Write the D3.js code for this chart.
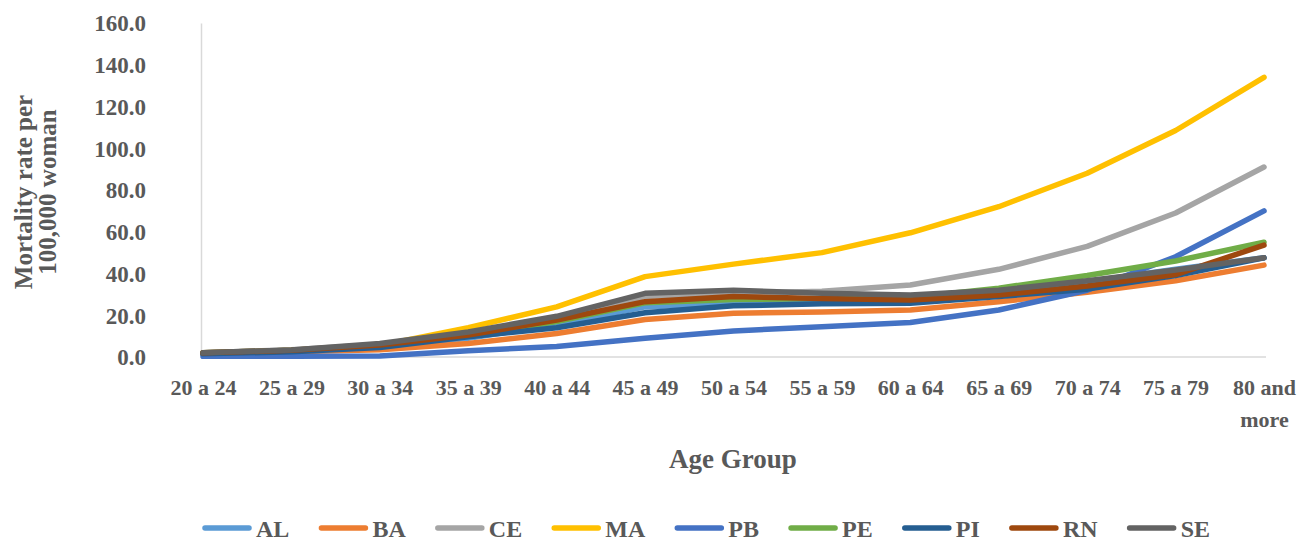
<!DOCTYPE html>
<html>
<head>
<meta charset="utf-8">
<script src="https://cdn.jsdelivr.net/npm/d3@7"></script>
<style>
  body { margin: 0; background: #fff; }
  text { font-family: "Liberation Serif", "Times New Roman", serif; font-weight: bold; fill: #595959; }
</style>
</head>
<body>
<div id="chart"></div>
<script>
// Age groups (x categories)
const ageGroups = ["20 a 24", "25 a 29", "30 a 34", "35 a 39", "40 a 44", "45 a 49", "50 a 54",
    "55 a 59", "60 a 64", "65 a 69", "70 a 74", "75 a 79", "80 and more"];

// Mortality rate per 100,000 women, per state
const AL = [1.8, 2.8, 4.5, 9.0, 15.5, 24.0, 26.0, 26.5, 27.0, 30.8, 36.0, 42.0, 47.5];
const BA = [1.5, 2.5, 3.5, 6.5, 11.3, 18.0, 21.0, 21.5, 22.5, 26.5, 31.0, 36.5, 44.0];
const CE = [2.0, 3.5, 6.0, 11.0, 19.0, 29.0, 30.5, 31.5, 34.5, 42.0, 53.0, 69.0, 91.0];
const MA = [1.5, 3.0, 5.5, 14.0, 24.0, 38.5, 44.5, 50.0, 59.5, 72.0, 88.0, 108.5, 134.0];
const PB = [0.3, 0.4, 0.5, 3.0, 5.0, 9.0, 12.5, 14.5, 16.5, 22.5, 32.0, 48.0, 70.0];
const PE = [2.0, 3.2, 5.5, 10.0, 17.0, 26.0, 27.5, 28.0, 28.5, 33.0, 39.0, 46.0, 55.0];
const PI = [1.5, 2.5, 4.5, 9.7, 14.0, 21.2, 24.5, 25.5, 25.7, 29.0, 32.5, 39.0, 47.5];
const RN = [2.0, 3.2, 5.8, 10.5, 17.7, 26.5, 29.0, 28.0, 27.3, 29.7, 34.0, 39.5, 53.6];
const SE = [2.0, 3.4, 6.5, 12.0, 19.5, 30.5, 32.0, 30.5, 29.7, 32.0, 36.5, 41.7, 47.5];

const stateNames = ["AL", "BA", "CE", "MA", "PB", "PE", "PI", "RN", "SE"];
const stateValues = [AL, BA, CE, MA, PB, PE, PI, RN, SE];
const stateColors = ["#5B9BD5", "#ED7D31", "#A5A5A5", "#FFC000", "#4472C4", "#70AD47", "#255E91", "#9E480E", "#636363"];

const yTicks = [0, 20, 40, 60, 80, 100, 120, 140, 160];

const W = 1311, H = 540;
const svg = d3.select("#chart").append("svg")
    .attr("width", W)
    .attr("height", H);

const x = d3.scalePoint()
    .domain(ageGroups)
    .range([203, 1264]);

const y = d3.scaleLinear()
    .domain([0, 160])
    .range([357, 23]);

// Y axis
const yAxis = svg.append("g")
    .attr("transform", "translate(201,0)")
    .call(d3.axisLeft(y).tickValues(yTicks).tickSize(0).tickFormat(d3.format(".1f")));
yAxis.select(".domain").attr("stroke", "#d9d9d9").attr("stroke-width", 1.5);
yAxis.selectAll(".tick text")
    .attr("x", -55)
    .attr("dy", "0.34em")
    .style("font-size", "23px")
    .style("font-family", "Liberation Serif")
    .style("font-weight", "bold")
    .attr("fill", "#595959");

// X axis
const xAxis = svg.append("g")
    .attr("transform", "translate(0,357)")
    .call(d3.axisBottom(x).tickSize(0).tickPadding(22));
xAxis.select(".domain").attr("stroke", "#d9d9d9").attr("stroke-width", 1.5)
    .attr("d", "M201,0H1266");
xAxis.selectAll("text")
    .style("font-size", "22px")
    .style("font-family", "Liberation Serif")
    .style("font-weight", "bold")
    .attr("fill", "#595959")
    .each(function(d) {
        if (d === "80 and more") {
            const t = d3.select(this).text(null);
            t.append("tspan").attr("x", 0).text("80 and");
            t.append("tspan").attr("x", 0).attr("dy", "1.45em").text("more");
        }
    });

// Lines
const line = d3.line()
    .x((d, i) => x(ageGroups[i]))
    .y(d => y(d));

svg.append("g")
    .selectAll("path")
    .data(stateValues)
    .join("path")
    .attr("d", d => line(d))
    .attr("fill", "none")
    .attr("stroke", (d, i) => stateColors[i])
    .attr("stroke-width", 5.5)
    .attr("stroke-linecap", "round")
    .attr("stroke-linejoin", "round");

// Axis titles
svg.append("text")
    .attr("x", 733)
    .attr("y", 468)
    .attr("text-anchor", "middle")
    .style("font-size", "27px")
    .text("Age Group");

const yTitle = svg.append("text")
    .attr("transform", "translate(32,192) rotate(-90)")
    .attr("text-anchor", "middle")
    .style("font-size", "25px");
yTitle.append("tspan").attr("x", 0).attr("y", 0).text("Mortality rate per");
yTitle.append("tspan").attr("x", 0).attr("y", 24).text("100,000 woman");

// Legend: spread from x=205 to x=1210
const legend = svg.append("g").attr("transform", "translate(205,528)");
const items = stateNames.map((name, i) => {
    const g = legend.append("g");
    g.append("line")
        .attr("x1", 0).attr("x2", 44)
        .attr("y1", 0).attr("y2", 0)
        .attr("stroke", stateColors[i])
        .attr("stroke-width", 5.5)
        .attr("stroke-linecap", "round");
    const t = g.append("text")
        .attr("x", 51)
        .attr("y", 8.5)
        .style("font-size", "24px")
        .text(name);
    return { g: g, w: 51 + t.node().getComputedTextLength() };
});
const gap = (1005 - d3.sum(items, d => d.w)) / (items.length - 1);
let lx = 0;
items.forEach(it => {
    it.g.attr("transform", `translate(${lx},0)`);
    lx += it.w + gap;
});
</script>
</body>
</html>
